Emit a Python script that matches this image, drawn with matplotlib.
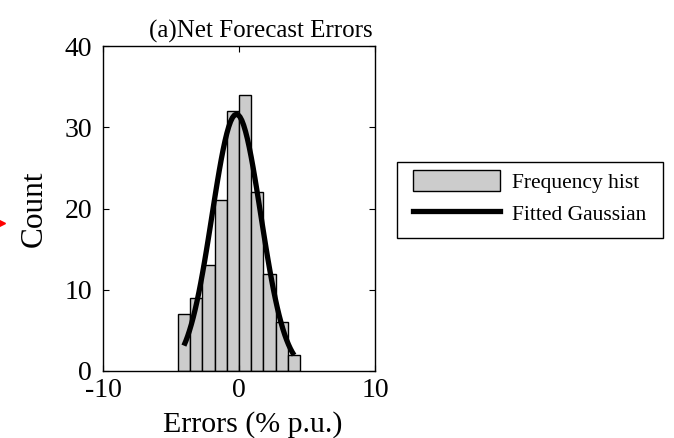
import numpy as np
import matplotlib
matplotlib.use('Agg')
import matplotlib.pyplot as plt
from matplotlib.lines import Line2D
from matplotlib.patches import Rectangle

# histogram of net forecast errors (% p.u.)
BIN_EDGES = [-4.5, -3.6, -2.7, -1.8, -0.9, 0.0, 0.9, 1.8, 2.7, 3.6, 4.5]
COUNTS = [7, 9, 13, 21, 32, 34, 22, 12, 6, 2]

X_TICKS = [-10, 0, 10]
Y_TICKS = [0, 10, 20, 30, 40]

plt.rcParams['font.family'] = ['Liberation Serif', 'DejaVu Serif']
plt.rcParams['axes.unicode_minus'] = False

def fit_gaussian(edges, counts):
    edges = np.asarray(edges)
    counts = np.asarray(counts, dtype=float)
    centers = (edges[:-1] + edges[1:]) / 2
    width = edges[1] - edges[0]
    n = counts.sum()
    mu = (counts * centers).sum() / n
    sigma = np.sqrt((counts * (centers - mu) ** 2).sum() / n)
    xs = np.linspace(centers[0], centers[-1], 60)
    ys = n * width / (sigma * np.sqrt(2 * np.pi)) * np.exp(-(xs - mu) ** 2 / (2 * sigma ** 2))
    return xs, ys

W, H = 674, 438
fig = plt.figure(figsize=(W / 100, H / 100), dpi=100)
ax = fig.add_axes([103 / W, 1 - 371 / H, 272 / W, 325 / H])

edges = np.asarray(BIN_EDGES)
ax.bar(edges[:-1], COUNTS, width=np.diff(edges), align='edge',
       color='#cccccc', edgecolor='black', linewidth=1.0)
gx, gy = fit_gaussian(BIN_EDGES, COUNTS)
ax.plot(gx, gy, color='black', linewidth=3.8, solid_capstyle='butt')

ax.set_xlim(-10, 10)
ax.set_ylim(0, 40)
ax.set_xticks(X_TICKS)
ax.set_yticks(Y_TICKS)
ax.tick_params(direction='in', length=4, width=0.8, top=True, right=True,
               labelsize=20)
ax.tick_params(axis='x', pad=5)
ax.tick_params(axis='y', pad=8)
for s in ax.spines.values():
    s.set_linewidth(1.0)

ax.text(0.58, 1.01, '(a)Net Forecast Errors', transform=ax.transAxes,
        ha='center', va='bottom', fontsize=18)
ax.text(0.551, -0.188, 'Errors (% p.u.)', transform=ax.transAxes,
        ha='center', va='baseline', fontsize=21.5)
fig.text(34 / W, 1 - 209 / H, 'Count', rotation=90, ha='center', va='center',
         fontsize=22.5)

# legend: box drawn separately so the padding can be set per side
fig.add_artist(Rectangle((397 / W, 1 - 238 / H), 266 / W, 76 / H,
                         transform=fig.transFigure, fill=False,
                         edgecolor='black', linewidth=1.0))
handles = [Rectangle((0, 0), 1, 1, facecolor='#cccccc', edgecolor='black', linewidth=1.0),
           Line2D([], [], color='black', linewidth=3.8)]
fig.legend(handles, ['Frequency hist', 'Fitted Gaussian'],
           loc='upper left', bbox_to_anchor=(413 / W, 1 - 170 / H),
           fontsize=15.5, frameon=False,
           handlelength=87 / 21.5, handleheight=24 / 21.5, handletextpad=12 / 21.5,
           borderpad=0, labelspacing=0.45, borderaxespad=0)

# small red pointer at the left edge
fig.add_artist(Line2D([0.003], [1 - 223 / H], marker='>', color='red',
                      markersize=4, transform=fig.transFigure))

fig.savefig('out.png', dpi=100)
